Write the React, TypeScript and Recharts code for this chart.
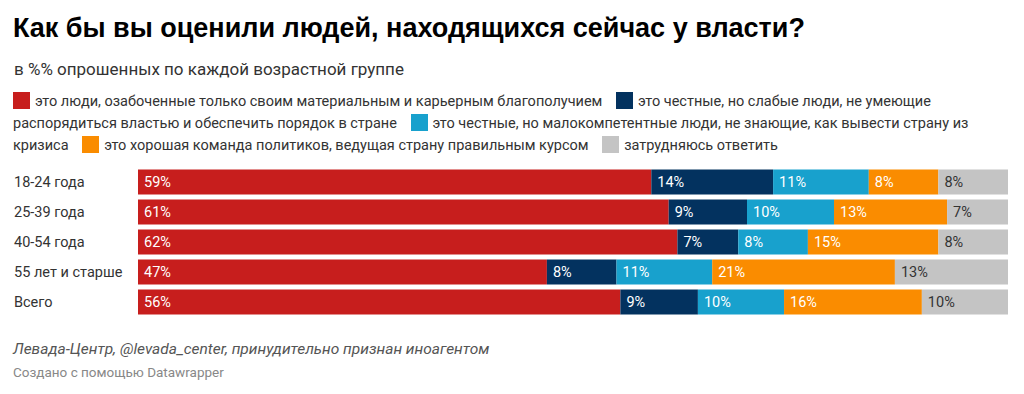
import { BarChart, Bar, XAxis, YAxis, LabelList } from "recharts";

const CATEGORIES = ["18-24 года", "25-39 года", "40-54 года", "55 лет и старше", "Всего"];
const SELFISH = [59, 61, 62, 47, 56];
const WEAK = [14, 9, 7, 8, 9];
const INCOMPETENT = [11, 10, 8, 11, 10];
const GOOD_TEAM = [8, 13, 15, 21, 16];
const DONT_KNOW = [8, 7, 8, 13, 10];

const SERIES = [
  { key: "selfish", name: "это люди, озабоченные только своим материальным и карьерным благополучием", color: "#c71e1d", text: "#fff" },
  { key: "weak", name: "это честные, но слабые люди, не умеющие распорядиться властью и обеспечить порядок в стране", color: "#03325f", text: "#fff" },
  { key: "incompetent", name: "это честные, но малокомпетентные люди, не знающие, как вывести страну из кризиса", color: "#18a1cd", text: "#fff" },
  { key: "good", name: "это хорошая команда политиков, ведущая страну правильным курсом", color: "#fa8c00", text: "#fff" },
  { key: "dunno", name: "затрудняюсь ответить", color: "#c4c4c4", text: "#333" },
];

const data = CATEGORIES.map((c, i) => ({
  name: c,
  selfish: SELFISH[i],
  weak: WEAK[i],
  incompetent: INCOMPETENT[i],
  good: GOOD_TEAM[i],
  dunno: DONT_KNOW[i],
}));

const FONT = "Roboto, 'Noto Sans', sans-serif";

const CategoryTick = (props: any) => {
  const { y, payload } = props;
  return (
    <text x={14} y={y} dy={5} textAnchor="start" fontSize={14.5} fill="#333" fontFamily={FONT}>
      {payload.value}
    </text>
  );
};

const makeLabel = (color: string) => (props: any) => {
  const { x, y, height, value } = props;
  return (
    <text x={x + 6} y={y + height / 2} dy={5} fontSize={14.5} fill={color} fontFamily={FONT}>
      {value}%
    </text>
  );
};

export default function App() {
  return (
    <div style={{ position: "absolute", left: 0, top: 0, width: 1024, height: 394, background: "#fff", fontFamily: FONT, color: "#333" }}>
      <div style={{ position: "absolute", left: 13, top: 15, fontSize: 27, lineHeight: "27px", fontWeight: 700, color: "#000", whiteSpace: "nowrap", fontFamily: "'Liberation Sans', Arial, sans-serif" }}>
        Как бы вы оценили людей, находящихся сейчас у власти?
      </div>
      <div style={{ position: "absolute", left: 14, top: 59, fontSize: 17, color: "#333", whiteSpace: "nowrap" }}>
        в %% опрошенных по каждой возрастной группе
      </div>
      <div style={{ position: "absolute", left: 13, top: 91, width: 1000, fontSize: 14.5, lineHeight: "22px", color: "#333" }}>
        {SERIES.map((s, i) => (
          <span key={s.key}>
            <span style={{ display: "inline-block", width: 17, height: 17, background: s.color, verticalAlign: "-3px", marginRight: 5, marginLeft: i === 0 ? 0 : 10 }} />
            {s.name}
            {i < SERIES.length - 1 ? " " : ""}
          </span>
        ))}
      </div>
      <div style={{ position: "absolute", left: 0, top: 0 }}>
        <BarChart
          width={1024}
          height={330}
          data={data}
          layout="vertical"
          stackOffset="expand"
          barSize={25}
          margin={{ top: 166.5, right: 16, bottom: 13.5, left: 0 }}
        >
          <XAxis type="number" hide domain={[0, 1]} />
          <YAxis type="category" dataKey="name" width={138} axisLine={false} tickLine={false} tick={<CategoryTick />} />
          {SERIES.map((s) => (
            <Bar key={s.key} dataKey={s.key} stackId="a" fill={s.color} isAnimationActive={false}>
              <LabelList dataKey={s.key} content={makeLabel(s.text)} />
            </Bar>
          ))}
        </BarChart>
      </div>
      <div style={{ position: "absolute", left: 13, top: 340, fontSize: 15.5, fontStyle: "italic", color: "#555", whiteSpace: "nowrap" }}>
        Левада-Центр, @levada_center, принудительно признан иноагентом
      </div>
      <div style={{ position: "absolute", left: 13, top: 364, fontSize: 13.5, color: "#888", whiteSpace: "nowrap" }}>
        Создано с помощью Datawrapper
      </div>
    </div>
  );
}
